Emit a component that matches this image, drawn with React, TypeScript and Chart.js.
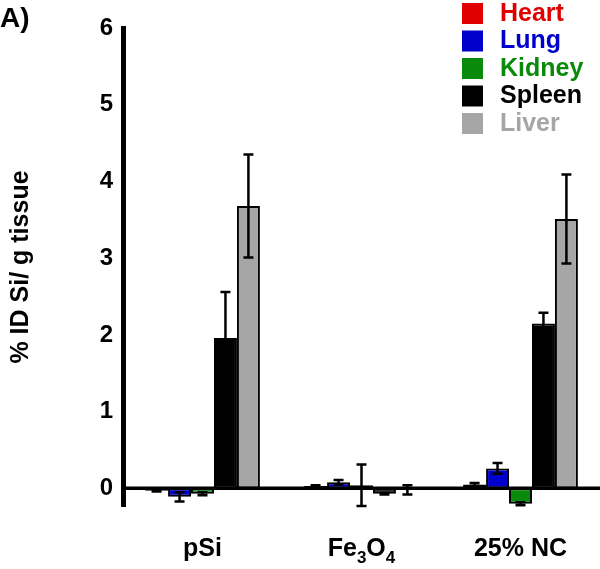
import React, { useEffect, useRef } from 'react';
import { Chart, registerables } from 'chart.js';
Chart.register(...registerables);

// '_' marks the next character as a subscript
const categories = ['pSi', 'Fe_3O_4', '25% NC'];
const seriesNames = ['Heart', 'Lung', 'Kidney', 'Spleen', 'Liver'];
const heart = [-0.03, 0.03, 0.05];
const heartErr = [0.01, 0.01, 0.02];
const lung = [-0.11, 0.08, 0.26];
const lungErr = [0.06, 0.03, 0.07];
const kidney = [-0.07, 0.04, -0.2];
const kidneyErr = [0.02, 0.27, 0.02];
const spleen = [1.96, -0.07, 2.15];
const spleenErr = [0.6, 0.01, 0.14];
const liver = [3.68, -0.02, 3.51];
const liverErr = [0.67, 0.06, 0.58];
const yTicks = [0, 1, 2, 3, 4, 5, 6];
const colors = ['#e00000', '#0000cc', '#0a8a0a', '#000000', '#a6a6a6'];
const panelLabel = 'A)';
const yTitle = '% ID Si/ g tissue';

const FONT = '"Liberation Sans", Arial, sans-serif';
const values = [heart, lung, kidney, spleen, liver];
const errors = [heartErr, lungErr, kidneyErr, spleenErr, liverErr];

const overlayPlugin = {
  id: 'overlay',
  beforeDatasetsDraw(chart: any) {
    const { ctx, chartArea, scales } = chart;
    const y0 = scales.y.getPixelForValue(0);
    ctx.save();
    ctx.strokeStyle = '#000';
    ctx.lineWidth = 3.5;
    ctx.beginPath();
    ctx.moveTo(chartArea.left, y0);
    ctx.lineTo(chartArea.right, y0);
    ctx.stroke();
    ctx.restore();
  },
  afterDatasetsDraw(chart: any) {
    const { ctx, scales } = chart;
    ctx.save();
    ctx.strokeStyle = '#000';
    ctx.lineWidth = 2.5;
    chart.data.datasets.forEach((ds: any, di: number) => {
      const meta = chart.getDatasetMeta(di);
      meta.data.forEach((bar: any, i: number) => {
        const v = ds.data[i];
        const e = ds.errors[i];
        const x = bar.x;
        const yt = scales.y.getPixelForValue(v + e);
        const yb = scales.y.getPixelForValue(v - e);
        ctx.beginPath();
        ctx.moveTo(x, yt);
        ctx.lineTo(x, yb);
        ctx.moveTo(x - 5, yt);
        ctx.lineTo(x + 5, yt);
        ctx.moveTo(x - 5, yb);
        ctx.lineTo(x + 5, yb);
        ctx.stroke();
      });
    });
    ctx.restore();
  },
  afterDraw(chart: any) {
    const { ctx, scales } = chart;
    ctx.save();
    // panel label
    ctx.fillStyle = '#000';
    ctx.font = `bold 28px ${FONT}`;
    ctx.textAlign = 'left';
    ctx.textBaseline = 'alphabetic';
    ctx.fillText(panelLabel, 0, 27);
    // x category labels with subscripts
    const mainFont = `bold 25px ${FONT}`;
    const subFont = `bold 17px ${FONT}`;
    categories.forEach((lab, i) => {
      const parts: { t: string; sub: boolean }[] = [];
      for (let k = 0; k < lab.length; k++) {
        if (lab[k] === '_') {
          parts.push({ t: lab[k + 1], sub: true });
          k++;
        } else {
          const last = parts[parts.length - 1];
          if (last && !last.sub) last.t += lab[k];
          else parts.push({ t: lab[k], sub: false });
        }
      }
      let w = 0;
      parts.forEach((p) => {
        ctx.font = p.sub ? subFont : mainFont;
        w += ctx.measureText(p.t).width;
      });
      let x = scales.x.getPixelForValue(i) - w / 2;
      const base = 556;
      parts.forEach((p) => {
        ctx.font = p.sub ? subFont : mainFont;
        ctx.fillText(p.t, x, p.sub ? base + 7 : base);
        x += ctx.measureText(p.t).width;
      });
    });
    // legend
    ctx.font = `bold 25px ${FONT}`;
    ctx.textBaseline = 'middle';
    seriesNames.forEach((name, i) => {
      const top = 3 + i * 27.5;
      ctx.fillStyle = colors[i];
      ctx.fillRect(462, top, 21, 21);
      ctx.fillText(name, 500, top + 11);
    });
    ctx.restore();
  },
};

export default function App() {
  const ref = useRef<HTMLCanvasElement>(null);
  useEffect(() => {
    const chart = new Chart(ref.current!, {
      type: 'bar',
      data: {
        labels: categories,
        datasets: seriesNames.map((name, i) => ({
          label: name,
          data: values[i],
          errors: errors[i],
          backgroundColor: colors[i],
          borderColor: '#000',
          borderWidth: 2,
          borderSkipped: false,
          categoryPercentage: 0.722,
          barPercentage: 1.0,
        })) as any,
      },
      options: {
        animation: false,
        responsive: false,
        layout: { padding: { top: 28, bottom: 63, left: 0, right: 0 } },
        plugins: { legend: { display: false }, tooltip: { enabled: false } },
        scales: {
          x: { display: false },
          y: {
            min: -0.23,
            max: 6,
            afterBuildTicks: (s: any) => {
              s.ticks = yTicks.map((v) => ({ value: v }));
            },
            afterFit: (s: any) => {
              s.width = 123;
            },
            grid: { display: false, drawTicks: false },
            border: { display: true, color: '#000', width: 5 },
            ticks: {
              color: '#000',
              padding: 10,
              font: { family: FONT, size: 24, weight: 'bold' },
            },
            title: {
              display: true,
              text: yTitle,
              color: '#000',
              font: { family: FONT, size: 25, weight: 'bold' },
              padding: { top: 6, bottom: 0 },
            },
          },
        },
      },
      plugins: [overlayPlugin],
    });
    return () => chart.destroy();
  }, []);
  return (
    <div style={{ position: 'fixed', left: 0, top: 0, width: 600, height: 569, background: '#fff' }}>
      <canvas ref={ref} width={600} height={569} style={{ width: 600, height: 569 }} />
    </div>
  );
}
